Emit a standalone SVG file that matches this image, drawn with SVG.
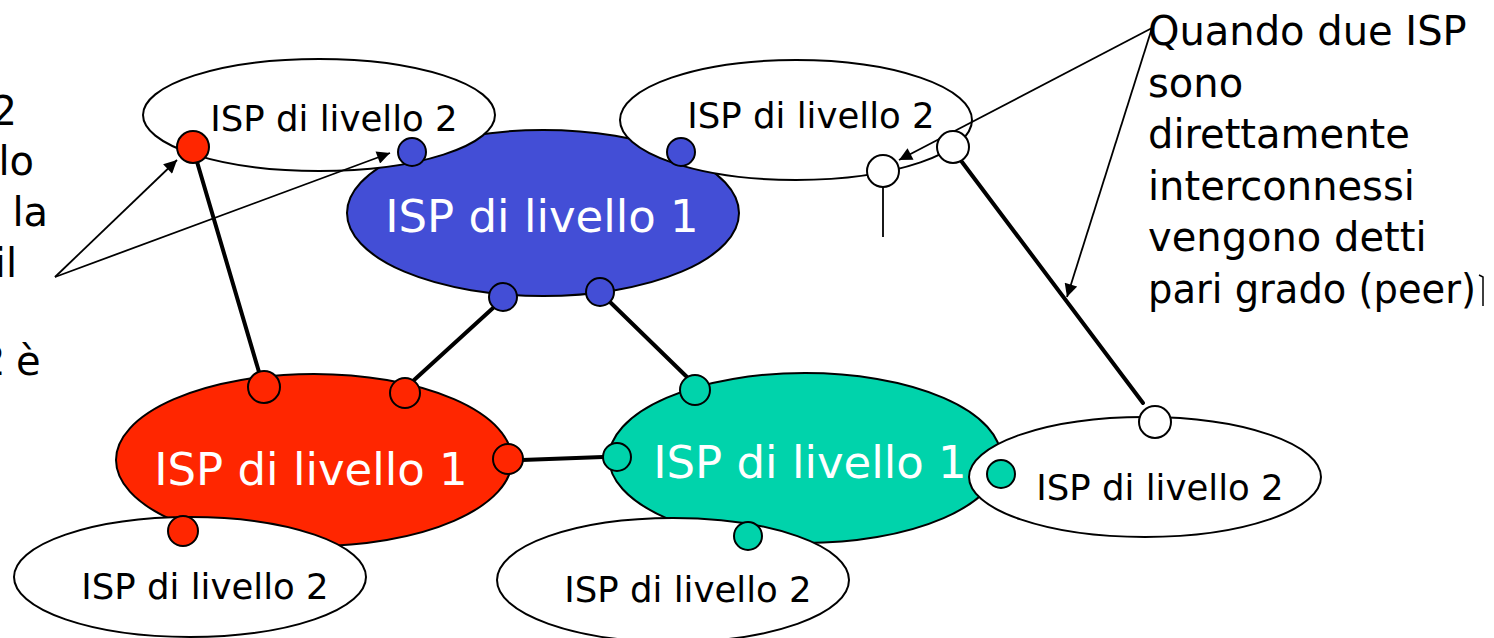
<svg xmlns="http://www.w3.org/2000/svg" width="1494" height="638" viewBox="0 0 1494 638">
  <style>
    .l1 { stroke: #000; stroke-width: 2; }
    .l2 { fill: #fff; stroke: #000; stroke-width: 2; }
    .t1 { font-family: "DejaVu Sans", "Liberation Sans", sans-serif; font-size: 45px; fill: #fff; text-anchor: middle; }
    .t2 { font-family: "DejaVu Sans", "Liberation Sans", sans-serif; font-size: 35.5px; fill: #000; text-anchor: middle; }
    .note { font-family: "DejaVu Sans", "Liberation Sans", sans-serif; font-size: 40px; fill: #000; }
    .thick { stroke: #000; stroke-width: 4; fill: none; stroke-linecap: round; }
    .thin { stroke: #000; stroke-width: 1.8; fill: none; }
    .arrow { stroke: #000; stroke-width: 1.8; fill: none; marker-end: url(#ah); }
    .dot { stroke: #000; stroke-width: 2; }
    .red { fill: #ff2600; }
    .blue { fill: #434ed6; }
    .green { fill: #00d3ab; }
    .white { fill: #fff; }
  </style>
  <defs>
    <marker id="ah" viewBox="0 0 10 10" refX="10" refY="5" markerWidth="17" markerHeight="13" markerUnits="userSpaceOnUse" orient="auto">
      <path d="M0,0 L10,5 L0,10 z" fill="#000"/>
    </marker>
  </defs>
  <rect width="1494" height="638" fill="#fff"/>

  <!-- Tier-1 ISPs -->
  <g id="isp1-blue">
    <ellipse class="l1 blue" cx="543" cy="213" rx="196" ry="83"/>
    <text class="t1" x="542" y="232">ISP di livello 1</text>
  </g>
  <g id="isp1-red">
    <ellipse class="l1 red" cx="314" cy="460" rx="198" ry="86"/>
    <text class="t1" x="311" y="485">ISP di livello 1</text>
  </g>
  <g id="isp1-green">
    <ellipse class="l1 green" cx="805" cy="458" rx="196" ry="85"/>
    <text class="t1" x="810" y="478">ISP di livello 1</text>
  </g>

  <!-- Tier-2 ISPs -->
  <g id="isp2-topleft">
    <ellipse class="l2" cx="319" cy="115" rx="176" ry="56"/>
    <text class="t2" x="334" y="131">ISP di livello 2</text>
  </g>
  <g id="isp2-topright">
    <ellipse class="l2" cx="796" cy="120" rx="176" ry="60"/>
    <text class="t2" x="811" y="128">ISP di livello 2</text>
  </g>
  <g id="isp2-bottomright">
    <ellipse class="l2" cx="1145" cy="477" rx="176" ry="60"/>
    <text class="t2" x="1160" y="500">ISP di livello 2</text>
  </g>
  <g id="isp2-bottomleft">
    <ellipse class="l2" cx="190" cy="577" rx="176" ry="60"/>
    <text class="t2" x="205" y="599">ISP di livello 2</text>
  </g>
  <g id="isp2-bottommid">
    <ellipse class="l2" cx="673" cy="580" rx="176" ry="62"/>
    <text class="t2" x="688" y="602">ISP di livello 2</text>
  </g>

  <!-- Connectors -->
  <g id="connectors">
    <path class="thick" d="M195,155 L259,372"/>
    <path class="thick" d="M493,308 L413,381"/>
    <path class="thick" d="M610,302 L688,378"/>
    <path class="thick" d="M522,460 L603,457"/>
    <path class="thick" d="M962,162 L1143,403"/>
    <path class="thin" d="M883,187 L883,237"/>
    <path class="arrow" d="M55,277 L177,160"/>
    <path class="arrow" d="M55,277 L390,153"/>
    <path class="arrow" d="M1152,28 L899,160"/>
    <path class="arrow" d="M1152,28 L1067,297"/>
  </g>

  <!-- Ports -->
  <g id="ports">
    <circle class="dot red" cx="193" cy="147" r="16"/>
    <circle class="dot red" cx="264" cy="387" r="16"/>
    <circle class="dot red" cx="405" cy="393" r="15"/>
    <circle class="dot red" cx="508" cy="459" r="15"/>
    <circle class="dot red" cx="183" cy="531" r="15"/>
    <circle class="dot blue" cx="412" cy="152" r="14"/>
    <circle class="dot blue" cx="681" cy="152" r="14"/>
    <circle class="dot blue" cx="503" cy="297" r="14"/>
    <circle class="dot blue" cx="600" cy="292" r="14"/>
    <circle class="dot green" cx="695" cy="390" r="15"/>
    <circle class="dot green" cx="617" cy="457" r="14"/>
    <circle class="dot green" cx="748" cy="536" r="14"/>
    <circle class="dot green" cx="1001" cy="474" r="14"/>
    <circle class="dot white" cx="883" cy="171" r="16"/>
    <circle class="dot white" cx="953" cy="147" r="16"/>
    <circle class="dot white" cx="1155" cy="422" r="16"/>
  </g>

  <!-- Left (cut-off) annotation -->
  <g id="note-left">
    <text class="note" x="17" y="125" text-anchor="end">2</text>
    <text class="note" x="34" y="175" text-anchor="end">lo</text>
    <text class="note" x="48" y="226" text-anchor="end">la</text>
    <text class="note" x="17" y="277" text-anchor="end">il</text>
    <text class="note" x="-20" y="375">2 <tspan x="16">è</tspan></text>
  </g>

  <!-- Right annotation -->
  <g id="note-right">
    <text class="note" x="1148" y="45">Quando due ISP</text>
    <text class="note" x="1148" y="97">sono</text>
    <text class="note" x="1148" y="148">direttamente</text>
    <text class="note" x="1148" y="200">interconnessi</text>
    <text class="note" x="1148" y="251">vengono detti</text>
    <text class="note" x="1148" y="303" textLength="328" lengthAdjust="spacingAndGlyphs">pari grado (peer)</text>
    <path d="M1479,275 L1483,277 L1483,306" stroke="#000" stroke-width="1.5" fill="none"/>
  </g>
</svg>
